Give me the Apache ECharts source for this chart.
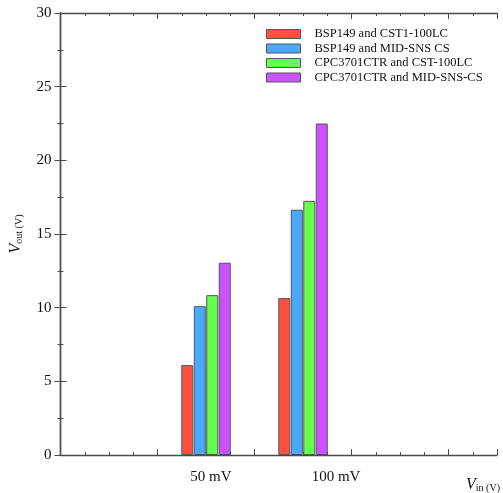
<!doctype html>
<html>
<head>
  <meta charset="UTF-8" />
  <title>Vout vs Vin</title>
  <script src="https://cdn.jsdelivr.net/npm/echarts@6/dist/echarts.min.js"></script>
  <style>
    html, body { margin: 0; padding: 0; background: #fff; }
    #chart { width: 503px; height: 493px; }
  </style>
</head>
<body>
  <div id="chart"></div>
  <script>
    // slots along the x axis; only two of them carry data
    const slots = ['', '', '', '50 mV', '', '100 mV', '', '', '', ''];
    const seriesNames = [
      'BSP149 and CST1-100LC',
      'BSP149 and MID-SNS CS',
      'CPC3701CTR and CST-100LC',
      'CPC3701CTR and MID-SNS-CS'
    ];
    const vout50 = [6.1, 10.1, 10.85, 13.05];
    const vout100 = [10.65, 16.65, 17.25, 22.5];
    const colors = ['#ff5140', '#4aa8ff', '#66ff4d', '#cc52ff'];
    const yTicks = [0, 5, 10, 15, 20, 25, 30];

    const serif = '"Liberation Serif", "DejaVu Serif", serif';
    const axisColor = '#4a4a4a';

    const chart = echarts.init(document.getElementById('chart'), null, { renderer: 'canvas' });

    const series = seriesNames.map((name, i) => {
      const data = slots.map(s => {
        if (s === '50 mV') return vout50[i];
        if (s === '100 mV') return vout100[i];
        return null;
      });
      return {
        name: name,
        type: 'bar',
        xAxisIndex: 0,
        yAxisIndex: 0,
        data: data,
        barWidth: 12,
        barGap: '4%',
        itemStyle: { color: colors[i], borderColor: '#555', borderWidth: 1 }
      };
    });

    const frameAxis = (pos, showLabel) => ({
      type: 'value',
      position: pos,
      min: 0,
      max: 4.5,
      interval: 1,
      axisLine: { show: true, lineStyle: { color: axisColor, width: 1.4 } },
      axisTick: { show: true, inside: true, length: 6, lineStyle: { color: axisColor } },
      minorTick: { show: true, splitNumber: 4, length: 3, lineStyle: { color: axisColor } },
      splitLine: { show: false },
      axisLabel: showLabel ? {
        show: true,
        customValues: [1.55, 2.84],
        formatter: v => (v < 2 ? slots[3] : slots[5]),
        fontFamily: serif,
        fontSize: 15,
        color: '#111',
        margin: 15
      } : { show: false }
    });

    const yFrame = (pos, showLabel) => ({
      type: 'value',
      position: pos,
      min: 0,
      max: 30,
      interval: 5,
      axisLine: { show: true, lineStyle: { color: axisColor, width: 1.4 } },
      axisTick: { show: true, inside: true, length: 6, lineStyle: { color: axisColor } },
      minorTick: { show: true, splitNumber: 2, length: 3, lineStyle: { color: axisColor } },
      splitLine: { show: false },
      axisLabel: showLabel ? {
        show: true,
        fontFamily: serif,
        fontSize: 15,
        color: '#111',
        margin: 9,
        formatter: v => (yTicks.indexOf(v) >= 0 ? String(v) : '')
      } : { show: false }
    });

    const option = {
      backgroundColor: '#fff',
      animation: false,
      grid: { left: 57, right: 2, top: 13, bottom: 36, containLabel: false },
      legend: {
        orient: 'vertical',
        left: 261,
        top: 22,
        itemWidth: 34,
        itemHeight: 9,
        itemGap: 0.5,
        icon: 'rect',
        data: seriesNames,
        textStyle: { fontFamily: serif, fontSize: 12.5, lineHeight: 14, color: '#111', padding: [0, 0, 0, 9] },
        itemStyle: { borderColor: '#555', borderWidth: 1 }
      },
      xAxis: [
        {
          type: 'category',
          data: slots,
          boundaryGap: false,
          position: 'bottom',
          axisLine: { show: false },
          axisTick: { show: false },
          axisLabel: { show: false },
          splitLine: { show: false }
        },
        Object.assign(frameAxis('bottom', true), {
          name: '{v|V}{s|in (V)}',
          nameLocation: 'end',
          nameGap: -31,
          nameTextStyle: {
            align: 'left',
            verticalAlign: 'top',
            padding: [21, 0, 0, 0],
            rich: {
              v: { fontFamily: serif, fontStyle: 'italic', fontSize: 16, color: '#111' },
              s: { fontFamily: serif, fontSize: 10, color: '#111', padding: [7, 0, 0, 0] }
            }
          }
        }),
        frameAxis('top', false)
      ],
      yAxis: [
        Object.assign(yFrame('left', true), {
          name: '{v|V}{s|out (V)}',
          nameLocation: 'middle',
          nameRotate: 90,
          nameGap: 36,
          nameTextStyle: {
            rich: {
              v: { fontFamily: serif, fontStyle: 'italic', fontSize: 16, color: '#111' },
              s: { fontFamily: serif, fontSize: 10, color: '#111', padding: [7, 0, 0, 0] }
            }
          }
        }),
        yFrame('right', false)
      ],
      series: series
    };

    chart.setOption(option);
  </script>
</body>
</html>
